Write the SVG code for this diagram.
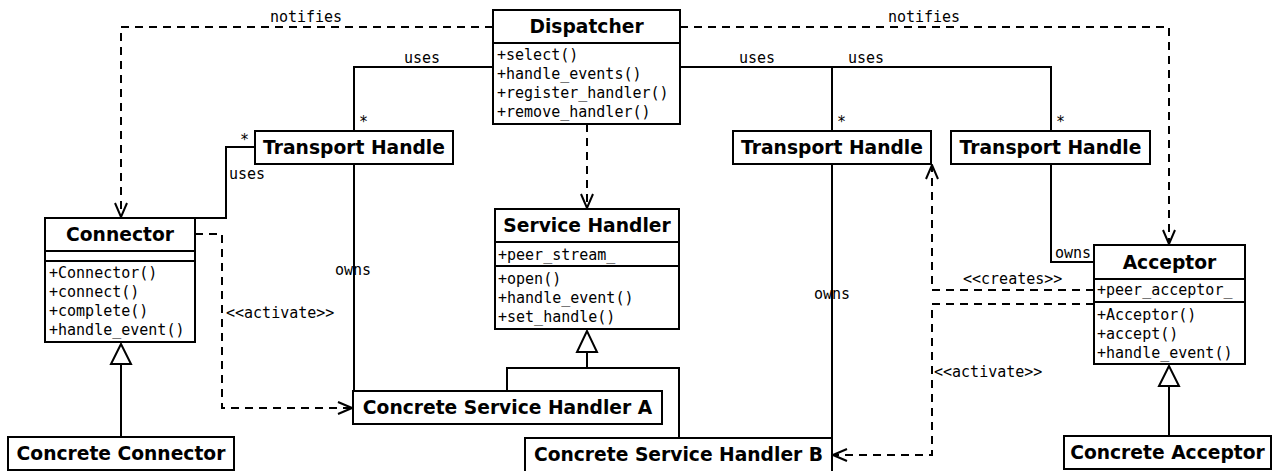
<svg xmlns="http://www.w3.org/2000/svg" width="1278" height="471" viewBox="0 0 1278 471">
<defs>
<style>
.box{fill:#fff;stroke:#000;stroke-width:2}
.ttl{font-family:"DejaVu Sans","Liberation Sans",sans-serif;font-weight:bold;font-size:18.7px;text-anchor:middle;fill:#000}
.mem{font-family:"DejaVu Sans Mono","Liberation Mono",monospace;font-size:15px;fill:#000}
.lbl{font-family:"DejaVu Sans Mono","Liberation Mono",monospace;font-size:15px;fill:#000}
.ln{fill:none;stroke:#000;stroke-width:2}
.dash{fill:none;stroke:#000;stroke-width:2;stroke-dasharray:8,6}
.tri{fill:#fff;stroke:#000;stroke-width:2}
</style>
<marker id="open" markerUnits="userSpaceOnUse" viewBox="0 0 16 14" refX="15" refY="7" markerWidth="16" markerHeight="14" orient="auto">
<path d="M1,1 L15,7 L1,13" fill="none" stroke="#000" stroke-width="2"/>
</marker>
</defs>

<g id="connectors">
<path class="dash" d="M493,27 H121 V217" marker-end="url(#open)"/>
<path class="dash" d="M680,27 H1169 V244" marker-end="url(#open)"/>
<path class="dash" d="M587,124 V208" marker-end="url(#open)"/>
<path class="ln" d="M493,67 H354 V131"/>
<path class="ln" d="M680,67 H1051 V131"/>
<path class="ln" d="M832,67 V131"/>
<path class="ln" d="M195,218 H226 V147 H255"/>
<path class="ln" d="M354,164 V391"/>
<path class="ln" d="M832,164 V438"/>
<path class="ln" d="M1051,164 V262 H1094"/>
<path class="dash" d="M195,234 H222 V408 H352" marker-end="url(#open)"/>
<path class="dash" d="M1094,290 H932 V165" marker-end="url(#open)"/>
<path class="dash" d="M1094,304 H932 V455 H833" marker-end="url(#open)"/>
<path class="ln" d="M121,437 V364"/>
<polygon class="tri" points="121,344 111,364 131,364"/>
<path class="ln" d="M507,391 V368 H679 V438 M587,368 V352"/>
<polygon class="tri" points="587,331 577,352 597,352"/>
<path class="ln" d="M1169,436 V386"/>
<polygon class="tri" points="1169,366 1159,386 1179,386"/>
<text class="lbl" x="306" y="22" text-anchor="middle">notifies</text>
<text class="lbl" x="924" y="22" text-anchor="middle">notifies</text>
<text class="lbl" x="587" y="121" text-anchor="middle">notifies</text>
<text class="lbl" x="422" y="63" text-anchor="middle">uses</text>
<text class="lbl" x="757" y="63" text-anchor="middle">uses</text>
<text class="lbl" x="866" y="63" text-anchor="middle">uses</text>
<text class="lbl" x="229" y="179">uses</text>
<text class="lbl" x="359" y="127">*</text>
<text class="lbl" x="837" y="127">*</text>
<text class="lbl" x="1056" y="127">*</text>
<text class="lbl" x="240" y="145">*</text>
<text class="lbl" x="353" y="275" text-anchor="middle">owns</text>
<text class="lbl" x="832" y="299" text-anchor="middle">owns</text>
<text class="lbl" x="1055" y="258">owns</text>
<text class="lbl" x="226" y="318">&lt;&lt;activate&gt;&gt;</text>
<text class="lbl" x="963" y="284">&lt;&lt;creates&gt;&gt;</text>
<text class="lbl" x="934" y="377">&lt;&lt;activate&gt;&gt;</text>
</g>

<g id="dispatcher">
<rect class="box" x="493" y="10" width="187" height="114"/>
<line class="ln" x1="493" y1="43" x2="680" y2="43"/>
<text class="ttl" x="586.5" y="33">Dispatcher</text>
<text class="mem" x="497" y="60">+select()</text>
<text class="mem" x="497" y="79">+handle_events()</text>
<text class="mem" x="497" y="98">+register_handler()</text>
<text class="mem" x="497" y="117">+remove_handler()</text>
</g>

<g id="transport-handle-1">
<rect class="box" x="255" y="131" width="198" height="33"/>
<text class="ttl" x="354" y="154">Transport Handle</text>
</g>
<g id="transport-handle-2">
<rect class="box" x="733" y="131" width="198" height="33"/>
<text class="ttl" x="832" y="154">Transport Handle</text>
</g>
<g id="transport-handle-3">
<rect class="box" x="951" y="131" width="199" height="33"/>
<text class="ttl" x="1050.5" y="154">Transport Handle</text>
</g>

<g id="connector">
<rect class="box" x="45" y="218" width="150" height="124"/>
<line class="ln" x1="45" y1="251" x2="195" y2="251"/>
<line class="ln" x1="45" y1="261" x2="195" y2="261"/>
<text class="ttl" x="120" y="241">Connector</text>
<text class="mem" x="49" y="278">+Connector()</text>
<text class="mem" x="49" y="297">+connect()</text>
<text class="mem" x="49" y="316">+complete()</text>
<text class="mem" x="49" y="335">+handle_event()</text>
</g>

<g id="service-handler">
<rect class="box" x="495" y="209" width="184" height="120"/>
<line class="ln" x1="495" y1="242" x2="679" y2="242"/>
<line class="ln" x1="495" y1="266" x2="679" y2="266"/>
<text class="ttl" x="587" y="232">Service Handler</text>
<text class="mem" x="498" y="260">+peer_stream_</text>
<text class="mem" x="498" y="284">+open()</text>
<text class="mem" x="498" y="303">+handle_event()</text>
<text class="mem" x="498" y="322">+set_handle()</text>
</g>

<g id="acceptor">
<rect class="box" x="1094" y="245" width="151" height="119"/>
<line class="ln" x1="1094" y1="279" x2="1245" y2="279"/>
<line class="ln" x1="1094" y1="302" x2="1245" y2="302"/>
<text class="ttl" x="1169.5" y="269">Acceptor</text>
<text class="mem" x="1097" y="295">+peer_acceptor_</text>
<text class="mem" x="1097" y="320">+Acceptor()</text>
<text class="mem" x="1097" y="339">+accept()</text>
<text class="mem" x="1097" y="358">+handle_event()</text>
</g>

<g id="concrete-connector">
<rect class="box" x="8" y="437" width="226" height="33"/>
<text class="ttl" x="121" y="460">Concrete Connector</text>
</g>
<g id="concrete-service-handler-a">
<rect class="box" x="353" y="391" width="309" height="33"/>
<text class="ttl" x="507.5" y="414">Concrete Service Handler A</text>
</g>
<g id="concrete-service-handler-b">
<rect class="box" x="525" y="438" width="307" height="34"/>
<text class="ttl" x="678.5" y="461">Concrete Service Handler B</text>
</g>
<g id="concrete-acceptor">
<rect class="box" x="1064" y="436" width="207" height="33"/>
<text class="ttl" x="1167.5" y="459">Concrete Acceptor</text>
</g>
</svg>
